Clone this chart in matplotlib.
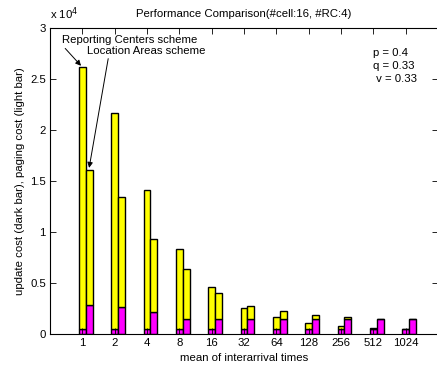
import matplotlib
matplotlib.use("Agg")
import matplotlib.pyplot as plt
import numpy as np

# mean of interarrival times (categories)
categories = ["1", "2", "4", "8", "16", "32", "64", "128", "256", "512", "1024"]

# Reporting Centers scheme: update cost (dark) and total cost (update + paging)
rc_update = [500, 500, 500, 500, 500, 500, 500, 500, 500, 500, 500]
rc_total = [26150, 21650, 14100, 8350, 4650, 2600, 1730, 1080, 850, 650, 550]

# Location Areas scheme
la_update = [2870, 2670, 2150, 1530, 1470, 1500, 1500, 1500, 1470, 1470, 1530]
la_total = [16050, 13400, 9350, 6350, 4000, 2800, 2250, 1900, 1730, 1530, 1530]

yellow = "#ffff00"
magenta = "#ff00ff"

plt.rcParams["font.family"] = ["Liberation Sans", "DejaVu Sans"]
plt.rcParams["font.size"] = 8.2

fig = plt.figure(figsize=(4.37, 3.66), dpi=100)
ax = fig.add_axes([50 / 437, (366 - 334.3) / 366, 388 / 437, 306.3 / 366])

x = np.arange(1, len(categories) + 1)
w = 0.215
rc_paging = np.array(rc_total) - np.array(rc_update)
la_paging = np.array(la_total) - np.array(la_update)

bar_kw = dict(width=w, edgecolor="black", linewidth=1.0)
ax.bar(x, rc_update, color=magenta, **bar_kw)
ax.bar(x, rc_paging, bottom=rc_update, color=yellow, **bar_kw)
ax.bar(x + w, la_update, color=magenta, **bar_kw)
ax.bar(x + w, la_paging, bottom=la_update, color=yellow, **bar_kw)

ax.set_xlim(0, 12)
ax.set_ylim(0, 30000)
ax.set_xticks(x)
ax.set_xticklabels(categories)
yt = np.arange(0, 30001, 5000)
ax.set_yticks(yt)
ax.set_yticklabels(["0", "0.5", "1", "1.5", "2", "2.5", "3"])
ax.tick_params(direction="in", top=True, right=True, length=4, width=0.6, pad=3)
for s in ax.spines.values():
    s.set_linewidth(0.8)

ax.set_title("Performance Comparison(#cell:16, #RC:4)", fontsize=8.2, pad=8)
ax.set_xlabel("mean of interarrival times", labelpad=3)
ax.set_ylabel("update cost (dark bar), paging cost (light bar)", labelpad=4)
ax.text(0.0, 1.02, r"x 10$^{4}$", transform=ax.transAxes, ha="left", va="bottom")

ax.text(0.37, 28500, "Reporting Centers scheme", ha="left", va="baseline")
ax.text(1.15, 27450, "Location Areas scheme", ha="left", va="baseline")
arrow = dict(arrowstyle="-|>", color="black", lw=0.7, mutation_scale=8, shrinkA=0, shrinkB=0)
ax.annotate("", xy=(0.96, 26300), xytext=(0.47, 28000), arrowprops=arrow)
ax.annotate("", xy=(1.21, 16300), xytext=(1.80, 27000), arrowprops=arrow)

ax.text(10.0, 28050, "p = 0.4\nq = 0.33\n v = 0.33", ha="left", va="top", linespacing=1.38)

fig.savefig("out.png", dpi=100)
